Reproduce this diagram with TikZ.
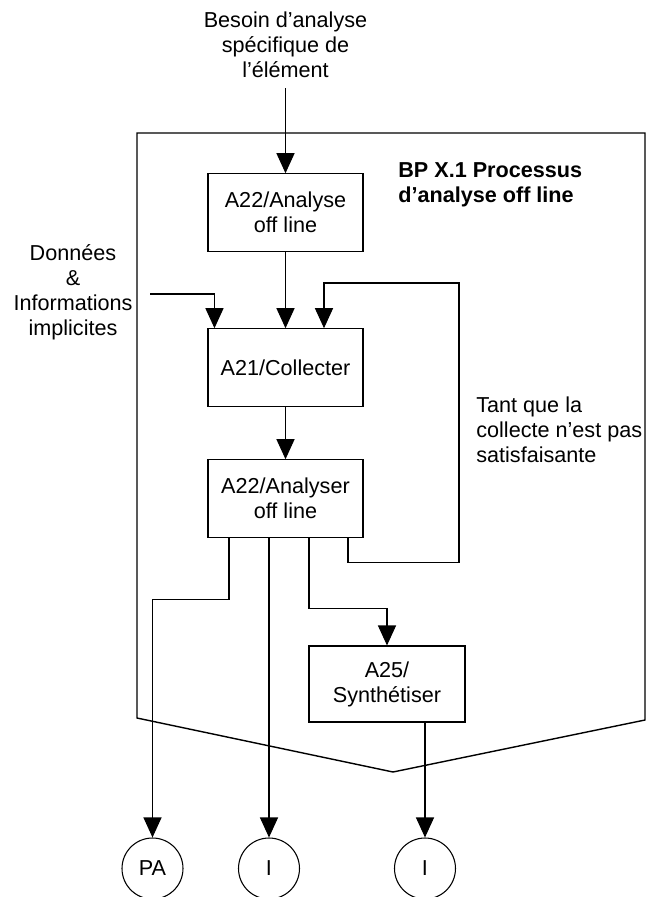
\documentclass[tikz,border=0pt]{standalone}
\usepackage{fontspec}
\setmainfont{Liberation Sans}
\usetikzlibrary{arrows.meta,positioning,calc}
\newcommand{\txt}{\fontsize{12.3}{14.2}\selectfont}

\begin{document}
\begin{tikzpicture}[
    >={Triangle[length=4mm,width=3.6mm]},
    box/.style={draw, line width=0.6pt, minimum width=3.1cm, minimum height=1.55cm, align=center, inner sep=2pt, font=\txt},
    term/.style={draw, circle, line width=0.6pt, minimum size=1.22cm, inner sep=0pt, font=\txt},
    lbl/.style={align=center, inner sep=0pt, font=\txt},
    wire/.style={line width=0.6pt},
    frame/.style={line width=0.8pt},
  ]
  \useasboundingbox (0,0) rectangle (12.94,-17.94);
  % cadre du processus
  \draw[frame] (2.74,-2.66) -- (12.9,-2.66) -- (12.9,-14.4) -- (7.86,-15.44) -- (2.74,-14.36) -- cycle;
  \node[lbl, align=left, anchor=west, font=\txt\bfseries] (titre) at (7.96,-3.69) {BP X.1 Processus\\d’analyse off line};
  % activites
  \node[box] (ana) at (5.71,-4.25) {A22/Analyse\\off line};
  \node[box] (col) at (5.71,-7.35) {A21/Collecter};
  \node[box] (anl) at (5.71,-9.97) {A22/Analyser\\off line};
  \node[box, minimum width=3.12cm, minimum height=1.52cm] (syn) at (7.74,-13.68) {A25/\\Synthétiser};
  % sorties
  \node[term] (pa) at (3.05,-17.37) {PA};
  \node[term] (i1) at (5.38,-17.37) {I};
  \node[term] (i2) at (8.5,-17.37) {I};
  % textes
  \node[lbl] (besoin) at (5.71,-0.9) {Besoin d’analyse\\spécifique de\\l’élément};
  \node[lbl] (donnees) at (1.46,-5.84) {Données\\\&\\Informations\\implicites};
  \node[lbl, align=left, anchor=west] (tantque) at (9.52,-8.6) {Tant que la\\collecte n’est pas\\satisfaisante};
  \coordinate (besoinbas) at (5.71,-1.76);
  \coordinate (entree) at (3.0,-5.88);
  % fleches
  \draw[->,wire] (besoinbas) -- (ana.north);
  \draw[->,wire] (ana.south) -- (col.north);
  \draw[->,wire] (entree) -| ($(col.north west)+(0.14,0)$);
  \draw[->,wire] (col.south) -- (anl.north);
  \draw[->,wire] ($(anl.south)+(1.25,0)$) -- ++(0,-0.5) -| (9.18,-5.66) -| ($(col.north)+(0.77,0)$);
  \draw[->,wire] ($(anl.south)+(-1.13,0)$) -- ++(0,-1.24) -| (pa.north);
  \draw[->,wire] (i1.north |- anl.south) -- (i1.north);
  \draw[->,wire] ($(anl.south)+(0.47,0)$) -- ++(0,-1.42) -| (syn.north);
  \draw[->,wire] (i2.north |- syn.south) -- (i2.north);
\end{tikzpicture}
\end{document}
